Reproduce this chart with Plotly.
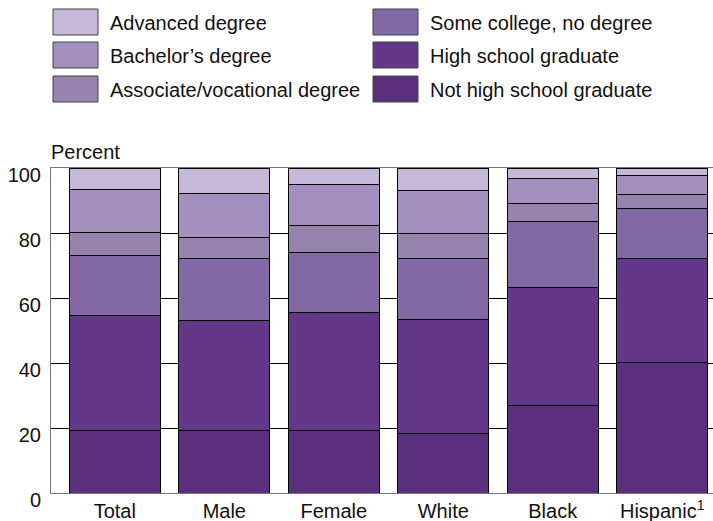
import plotly.graph_objects as go

categories = ["Total", "Male", "Female", "White", "Black", "Hispanic<sup>1</sup>"]

# percent shares, bottom to top of each stack
not_hs = [19.1, 19.1, 19.1, 18.2, 26.8, 40.3]
hs_grad = [35.4, 34.1, 36.3, 35.3, 36.3, 32.0]
some_college = [18.7, 19.1, 18.6, 18.8, 20.3, 15.1]
associate = [7.1, 6.2, 8.2, 7.4, 5.8, 4.3]
bachelors = [13.2, 13.8, 12.6, 13.5, 7.7, 5.9]
advanced = [6.5, 7.6, 5.2, 6.8, 3.1, 2.4]

series_names = ["Not high school graduate", "High school graduate", "Some college, no degree",
                "Associate/vocational degree", "Bachelor\u2019s degree", "Advanced degree"]
series_values = [not_hs, hs_grad, some_college, associate, bachelors, advanced]
series_colors = ["#5a307e", "#643889", "#8268a4", "#9684ae", "#a390bf", "#c6b8d9"]

y_ticks = [0, 20, 40, 60, 80, 100]

FONT = "Liberation Sans, Arial, sans-serif"
W, H = 713, 521
ML, MR, MT, MB = 51, 0, 168, 28
PW, PH = W - ML - MR, H - MT - MB

def px_x(px):
    return (px - ML) / PW

def px_y(py):
    return (H - MB - py) / PH

fig = go.Figure()
for name, vals, col in zip(series_names, series_values, series_colors):
    fig.add_trace(go.Bar(
        x=categories, y=vals, name=name, width=0.83,
        marker=dict(color=col, line=dict(color="#000000", width=1)),
        showlegend=False,
    ))

# custom legend (two columns, three rows)
legend_layout = [
    ("Advanced degree", 0, 0), ("Bachelor\u2019s degree", 0, 1), ("Associate/vocational degree", 0, 2),
    ("Some college, no degree", 1, 0), ("High school graduate", 1, 1), ("Not high school graduate", 1, 2),
]
col_x = [53, 373]
row_y = [9, 42, 76]
shapes = []
annotations = []
for name, c, r in legend_layout:
    col = series_colors[series_names.index(name)]
    x0, y0 = col_x[c], row_y[r]
    shapes.append(dict(type="rect", xref="paper", yref="paper",
                       x0=px_x(x0), x1=px_x(x0 + 45), y0=px_y(y0), y1=px_y(y0 + 26),
                       fillcolor=col, line=dict(color="#444444", width=1)))
    annotations.append(dict(xref="paper", yref="paper", x=px_x(x0 + 55), y=px_y(y0 + 14),
                            text=name, showarrow=False, xanchor="left", yanchor="middle",
                            font=dict(family=FONT, size=20, color="#111111")))

annotations.append(dict(xref="paper", yref="paper", x=px_x(49), y=px_y(152),
                        text="Percent", showarrow=False, xanchor="left", yanchor="middle",
                        font=dict(family=FONT, size=20, color="#111111")))

fig.update_layout(
    width=W, height=H,
    margin=dict(l=ML, r=MR, t=MT, b=MB, pad=0),
    barmode="stack",
    plot_bgcolor="white", paper_bgcolor="white",
    font=dict(family=FONT, size=20, color="#111111"),
    shapes=shapes, annotations=annotations,
    xaxis=dict(range=[-0.583, 5.464], showgrid=False, showline=True, linecolor="#777777",
               linewidth=1, mirror=True, ticks="", tickfont=dict(size=20), fixedrange=True),
    yaxis=dict(range=[0, 100], tickvals=y_ticks, showgrid=True, gridcolor="#000000", gridwidth=1,
               showline=True, linecolor="#777777", linewidth=1, mirror=True, ticks="",
               zeroline=False, tickfont=dict(size=20), ticklabelshift=7, ticklabelstandoff=5,
               fixedrange=True),
)

fig.write_html("out.html", config={"displayModeBar": False},
               post_script="document.body.style.margin='0';document.body.style.overflow='hidden';")
